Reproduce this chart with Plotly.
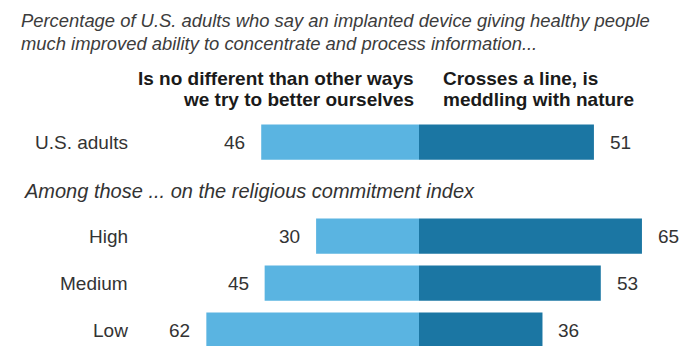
import plotly.graph_objects as go

# ---- data ----
categories = ["U.S. adults", "High", "Medium", "Low"]
no_different = [46, 30, 45, 62]
crosses_line = [51, 65, 53, 36]
left_header = ["Is no different than other ways", "we try to better ourselves"]
right_header = ["Crosses a line, is", "meddling with nature"]
title_lines = [
    "Percentage of U.S. adults who say an implanted device giving healthy people",
    "much improved ability to concentrate and process information...",
]
group_label = "Among those ... on the religious commitment index"

# ---- layout helpers ----
W, H = 684, 346
slots = [0, 2, 3, 4]          # row slots (gap row for the group label)
LIGHT = "#5AB4E1"
DARK = "#1B76A3"
SANS = "Liberation Sans, Arial, sans-serif"

def py(p):
    return 1 - p / H

def px(p):
    return p / W

fig = go.Figure()
fig.add_trace(go.Bar(
    y=slots, x=[-v for v in no_different], orientation="h",
    marker=dict(color=LIGHT, line=dict(width=0)), width=0.75,
    hoverinfo="skip", name="Is no different",
))
fig.add_trace(go.Bar(
    y=slots, x=crosses_line, orientation="h",
    marker=dict(color=DARK, line=dict(width=0)), width=0.75,
    hoverinfo="skip", name="Crosses a line",
))

ann = []
for s, cat, a, b in zip(slots, categories, no_different, crosses_line):
    ann.append(dict(x=px(130), xref="paper", y=s, yref="y", text=cat,
                    xanchor="right", yanchor="middle", showarrow=False,
                    font=dict(family=SANS, size=19, color="#333333")))
    ann.append(dict(x=-a, xref="x", y=s, yref="y", text=str(a), xshift=-14,
                    xanchor="right", yanchor="middle", showarrow=False,
                    font=dict(family=SANS, size=19, color="#333333")))
    ann.append(dict(x=b, xref="x", y=s, yref="y", text=str(b), xshift=14,
                    xanchor="left", yanchor="middle", showarrow=False,
                    font=dict(family=SANS, size=19, color="#333333")))

for i, t in enumerate(title_lines):
    ann.append(dict(x=px(19), xref="paper", y=py([20.5, 43][i]), yref="paper",
                    text="<i>" + t + "</i>", xanchor="left", yanchor="middle",
                    showarrow=False,
                    font=dict(family=SANS, size=18.4, color="#3c3c3c")))

for i, t in enumerate(left_header):
    ann.append(dict(x=px(416), xref="paper", y=py([78.5, 100][i]), yref="paper",
                    text="<b>" + t + "</b>", xanchor="right", yanchor="middle",
                    showarrow=False,
                    font=dict(family=SANS, size=19, color="#1a1a1a")))
for i, t in enumerate(right_header):
    ann.append(dict(x=px(441), xref="paper", y=py([78.5, 100][i]), yref="paper",
                    text="<b>" + t + "</b>", xanchor="left", yanchor="middle",
                    showarrow=False,
                    font=dict(family=SANS, size=19, color="#1a1a1a")))

ann.append(dict(x=px(22), xref="paper", y=py(190.5), yref="paper",
                text="<i>" + group_label + "</i>", xanchor="left", yanchor="middle",
                showarrow=False,
                font=dict(family=SANS, size=20, color="#333333")))

center, scale, row_px, first_px = 419, 3.43, 47, 142
fig.update_layout(
    width=W, height=H,
    margin=dict(l=0, r=0, t=0, b=0),
    paper_bgcolor="white", plot_bgcolor="white",
    barmode="relative", showlegend=False, hovermode=False,
    xaxis=dict(range=[-center / scale, (W - center) / scale], visible=False, fixedrange=True),
    yaxis=dict(range=[(H - first_px) / row_px, -first_px / row_px], visible=False, fixedrange=True),
    annotations=ann,
)
fig.write_html("out.html")
